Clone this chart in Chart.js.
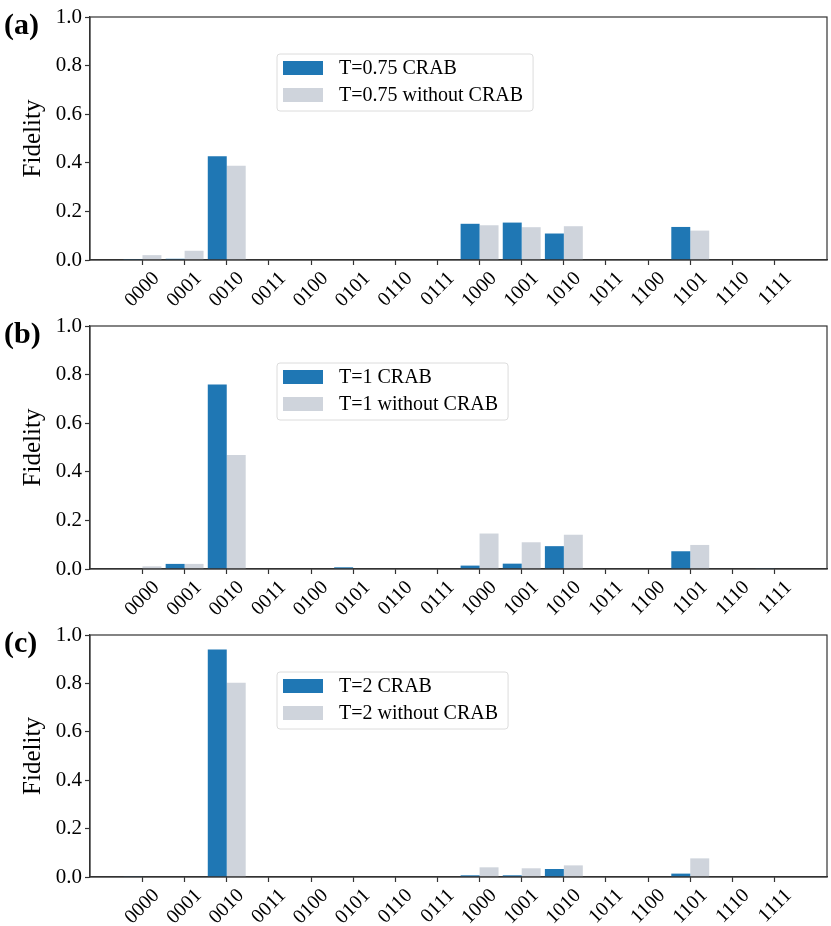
<!DOCTYPE html>
<html>
<head>
<meta charset="utf-8">
<script src="https://cdn.jsdelivr.net/npm/chart.js@4.4.1/dist/chart.umd.min.js"></script>
<style>
    body { margin: 0; background: #fff; width: 831px; height: 926px; overflow: hidden; position: relative; }
    canvas { position: absolute; left: 0; }
</style>
</head>
<body>
<canvas id="panelA" width="831" height="309" style="top:0px"></canvas>
<canvas id="panelB" width="831" height="309" style="top:309px"></canvas>
<canvas id="panelC" width="831" height="308" style="top:618px"></canvas>
<script>
const stateLabels = ['0000', '0001', '0010', '0011', '0100', '0101', '0110', '0111',
    '1000', '1001', '1010', '1011', '1100', '1101', '1110', '1111'];
const yTicks = [0, 0.2, 0.4, 0.6, 0.8, 1.0];

// T = 0.75
const crabA   = [0.004, 0.005, 0.427, 0, 0, 0.002, 0, 0, 0.149, 0.154, 0.109, 0, 0, 0.136, 0, 0];
const noCrabA = [0.020, 0.038, 0.388, 0, 0, 0, 0, 0, 0.143, 0.135, 0.139, 0, 0, 0.121, 0, 0];
// T = 1
const crabB   = [0.002, 0.021, 0.759, 0, 0, 0.007, 0, 0, 0.014, 0.022, 0.094, 0, 0, 0.073, 0, 0.001];
const noCrabB = [0.011, 0.021, 0.469, 0, 0, 0, 0, 0, 0.146, 0.110, 0.141, 0, 0, 0.099, 0, 0];
// T = 2
const crabC   = [0.001, 0, 0.940, 0, 0, 0, 0, 0, 0.007, 0.007, 0.033, 0, 0, 0.014, 0, 0];
const noCrabC = [0, 0, 0.803, 0, 0, 0, 0, 0, 0.040, 0.036, 0.048, 0, 0, 0.077, 0, 0];

const SERIF = '"Liberation Serif", "Times New Roman", serif';

// box around the axes, panel tag and the little legend
const frameAndLegend = {
    id: 'frameAndLegend',
    afterDraw(chart, args, opts) {
        const ctx = chart.ctx;
        const a = chart.chartArea;
        ctx.save();
        ctx.strokeStyle = '#333';
        ctx.lineWidth = 1.2;
        ctx.strokeRect(a.left, a.top, a.right - a.left, a.bottom - a.top);

        ctx.fillStyle = '#000';
        ctx.font = 'bold 30px ' + SERIF;
        ctx.textAlign = 'left';
        ctx.textBaseline = 'alphabetic';
        ctx.fillText(opts.tag, 4, a.top + 17);

        ctx.font = '20px ' + SERIF;
        const ds = chart.data.datasets;
        const w = Math.max(...ds.map(d => ctx.measureText(d.label).width));
        const bx = 277, by = a.top + 37, bw = 62 + w + 10, bh = 57;
        ctx.beginPath();
        ctx.roundRect(bx, by, bw, bh, 3);
        ctx.fillStyle = 'rgba(255,255,255,0.8)';
        ctx.fill();
        ctx.strokeStyle = '#dcdcdc';
        ctx.lineWidth = 1;
        ctx.stroke();
        ds.forEach((d, i) => {
            const cy = by + 14 + i * 27;
            ctx.fillStyle = d.backgroundColor;
            ctx.fillRect(283, cy - 7, 40, 14);
            ctx.fillStyle = '#000';
            ctx.textBaseline = 'middle';
            ctx.fillText(d.label, 339, cy + 1);
        });
        ctx.restore();
    }
};

function makeConfig(tag, tLabel, crab, noCrab) {
    return {
        type: 'bar',
        data: {
            datasets: [{
                label: tLabel + ' CRAB',
                data: crab.map((v, i) => ({ x: i, y: v })),
                backgroundColor: '#1f77b4'
            }, {
                label: tLabel + ' without CRAB',
                data: noCrab.map((v, i) => ({ x: i, y: v })),
                backgroundColor: '#cfd4dc'
            }]
        },
        options: {
            responsive: false,
            animation: false,
            layout: { padding: { top: 17, right: 4, left: 0, bottom: 0 } },
            datasets: { bar: { categoryPercentage: 0.9, barPercentage: 1.0 } },
            plugins: {
                legend: { display: false },
                tooltip: { enabled: false },
                frameAndLegend: { tag: tag }
            },
            scales: {
                x: {
                    type: 'linear',
                    min: -1.245,
                    max: 16.245,
                    offset: false,
                    afterBuildTicks: s => { s.ticks = stateLabels.map((_, i) => ({ value: i })); },
                    afterFit: s => { s.height = 49; },
                    grid: { display: true, offset: false, drawOnChartArea: false, drawTicks: true,
                        tickLength: 5, tickColor: '#333', tickWidth: 1.2 },
                    border: { color: '#333', width: 1.2 },
                    ticks: {
                        autoSkip: false, minRotation: 45, maxRotation: 45,
                        labelOffset: 14, padding: 2, color: '#000',
                        font: { family: SERIF, size: 20 },
                        callback: v => stateLabels[v]
                    }
                },
                y: {
                    min: 0,
                    max: 1,
                    afterBuildTicks: s => { s.ticks = yTicks.map(v => ({ value: v })); },
                    afterFit: s => { s.width = 90; },
                    grid: { display: true, drawOnChartArea: false, drawTicks: true,
                        tickLength: 5, tickColor: '#333', tickWidth: 1.2 },
                    border: { color: '#333', width: 1.2 },
                    ticks: {
                        padding: 3, color: '#000',
                        font: { family: SERIF, size: 21 },
                        callback: v => v.toFixed(1)
                    },
                    title: {
                        display: true, text: 'Fidelity', color: '#000',
                        font: { family: SERIF, size: 25 },
                        padding: { top: 18, bottom: 0 }
                    }
                }
            }
        },
        plugins: [frameAndLegend]
    };
}

const chartA = new Chart(document.getElementById('panelA'), makeConfig('(a)', 'T=0.75', crabA, noCrabA));
const chartB = new Chart(document.getElementById('panelB'), makeConfig('(b)', 'T=1', crabB, noCrabB));
const chartC = new Chart(document.getElementById('panelC'), makeConfig('(c)', 'T=2', crabC, noCrabC));
</script>
</body>
</html>
